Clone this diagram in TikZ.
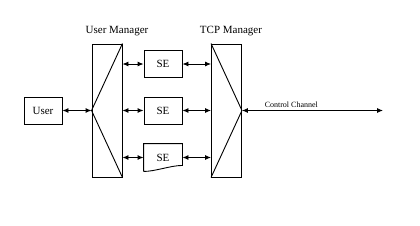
\documentclass[tikz,border=0pt]{standalone}
\usepackage{fontspec}
\setmainfont{Liberation Serif}
\usetikzlibrary{arrows.meta,positioning}
\begin{document}
\begin{tikzpicture}[x=1pt,y=-1pt,line width=0.9pt,
    box/.style={draw, minimum width=38pt, minimum height=27pt, inner sep=0pt, font=\fontsize{11}{13}\selectfont},
    mgr/.style={draw, minimum width=30pt, minimum height=133pt, inner sep=0pt},
    link/.style={{Latex[length=6pt,width=5pt]}-{Latex[length=6pt,width=5pt]}},
    lbl/.style={font=\fontsize{11}{13}\selectfont, inner sep=0pt}]
    \useasboundingbox (0,0) rectangle (420,225);
    % 用户
    \node[box] (user) at (43,110.5) {User};
    % 两个管理器
    \node[mgr] (um) at (107,110.5) {};
    \node[mgr] (tcp) at (226.5,110.5) {};
    \draw (um.north east) -- (um.west) -- (um.south east);
    \draw (tcp.north west) -- (tcp.east) -- (tcp.south west);
    \node[lbl] (umlbl) at (117,31) {User Manager};
    \node[lbl] (tcplbl) at (231,31) {TCP Manager};
    % SE
    \node[box] (se1) at (163,64) {SE};
    \node[box] (se2) at (163,110.5) {SE};
    \node[box, draw=none] (se3) at (163,157.5) {SE};
    \draw (se3.south west) -- (se3.north west) -- (se3.north east)
        -- ([yshift=6pt]se3.south east)
        .. controls +(-12,0) and +(12,0) .. (se3.south west);
    % 连线
    \draw[link] (user) -- (um.west);
    \draw[link] (um.east |- se1.west) -- (se1.west);
    \draw[link] (um.east |- se2.west) -- (se2.west);
    \draw[link] (um.east |- se3.west) -- (se3.west);
    \draw[link] (se1.east) -- (tcp.west |- se1.east);
    \draw[link] (se2.east) -- (tcp.west |- se2.east);
    \draw[link] (se3.east) -- (tcp.west |- se3.east);
    % 控制通道
    \coordinate (cc) at (383,110.5);
    \draw[link] (tcp.east) -- node[pos=0.35, above, inner sep=2pt, font=\fontsize{8}{10}\selectfont] {Control Channel} (cc);
\end{tikzpicture}
\end{document}
